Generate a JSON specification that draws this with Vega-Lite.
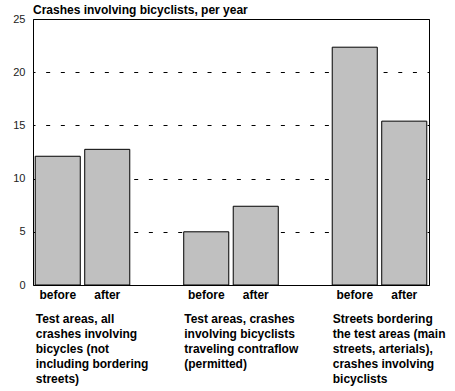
{
  "$schema": "https://vega.github.io/schema/vega-lite/v6.json",
  "width": 396,
  "height": 266,
  "autosize": {"type": "none"},
  "padding": {"left": 33, "top": 19, "right": 26, "bottom": 106},
  "background": "white",
  "config": {
    "view": {"stroke": "black", "strokeWidth": 1},
    "font": "Liberation Sans"
  },
  "title": {
    "text": "Crashes involving bicyclists, per year",
    "anchor": "start",
    "frame": "group",
    "font": "Liberation Sans",
    "fontSize": 12,
    "fontWeight": "bold",
    "color": "black",
    "offset": -4
  },
  "data": {
    "values": [
      {"slot": "A-before", "group": "Test areas, all crashes involving bicycles", "phase": "before", "crashes": 12.1},
      {"slot": "A-after", "group": "Test areas, all crashes involving bicycles", "phase": "after", "crashes": 12.75},
      {"slot": "B-before", "group": "Test areas, contraflow", "phase": "before", "crashes": 5.0},
      {"slot": "B-after", "group": "Test areas, contraflow", "phase": "after", "crashes": 7.4},
      {"slot": "C-before", "group": "Streets bordering the test areas", "phase": "before", "crashes": 22.35},
      {"slot": "C-after", "group": "Streets bordering the test areas", "phase": "after", "crashes": 15.4}
    ]
  },
  "resolve": {"axis": {"x": "independent"}},
  "layer": [
    {
      "mark": {"type": "bar", "fill": "#c0c0c0", "stroke": "black", "strokeWidth": 1},
      "encoding": {
        "x": {
          "field": "slot",
          "type": "nominal",
          "sort": null,
          "scale": {
            "domain": ["A-before", "A-after", "gap1-", "B-before", "B-after", "gap2-", "C-before", "C-after"],
            "paddingInner": 0.09,
            "paddingOuter": 0.045
          },
          "axis": {
            "orient": "bottom",
            "title": null,
            "domain": false,
            "ticks": false,
            "labelAngle": 0,
            "labelPadding": 4,
            "labelFont": "Liberation Sans",
            "labelFontSize": 12,
            "labelFontWeight": "bold",
            "labelColor": "black",
            "labelOverlap": false,
            "labelBound": false,
            "labelExpr": "split(datum.value, '-')[1]"
          }
        },
        "y": {
          "field": "crashes",
          "type": "quantitative",
          "scale": {"domain": [0, 25], "nice": false},
          "axis": {
            "title": null,
            "values": [0, 5, 10, 15, 20, 25],
            "domain": false,
            "ticks": false,
            "labelPadding": 8,
            "labelFont": "Liberation Sans",
            "labelFontSize": 11,
            "labelColor": "#222222",
            "grid": true,
            "gridColor": "black",
            "gridOpacity": 1,
            "gridWidth": 1,
            "gridDash": [4, 10.67],
            "gridDashOffset": 2
          }
        }
      }
    },
    {
      "mark": {"type": "point", "opacity": 0},
      "encoding": {
        "x": {
          "field": "slot",
          "type": "nominal",
          "sort": null,
          "axis": {
            "orient": "bottom",
            "title": null,
            "domain": false,
            "ticks": false,
            "grid": false,
            "labelAngle": 0,
            "labelAlign": "left",
            "labelBaseline": "top",
            "labelOffset": -22,
            "labelPadding": 28,
            "labelLineHeight": 15,
            "labelFont": "Liberation Sans",
            "labelFontSize": 12,
            "labelFontWeight": "bold",
            "labelColor": "black",
            "labelOverlap": false,
            "labelBound": false,
            "labelFlush": false,
            "labelExpr": "datum.value == 'A-before' ? ['Test areas, all', 'crashes involving', 'bicycles (not', 'including bordering', 'streets)'] : datum.value == 'B-before' ? ['Test areas, crashes', 'involving bicyclists', 'traveling contraflow', '(permitted)'] : datum.value == 'C-before' ? ['Streets bordering', 'the test areas (main', 'streets, arterials),', 'crashes involving', 'bicyclists'] : ''"
          }
        }
      }
    }
  ]
}
